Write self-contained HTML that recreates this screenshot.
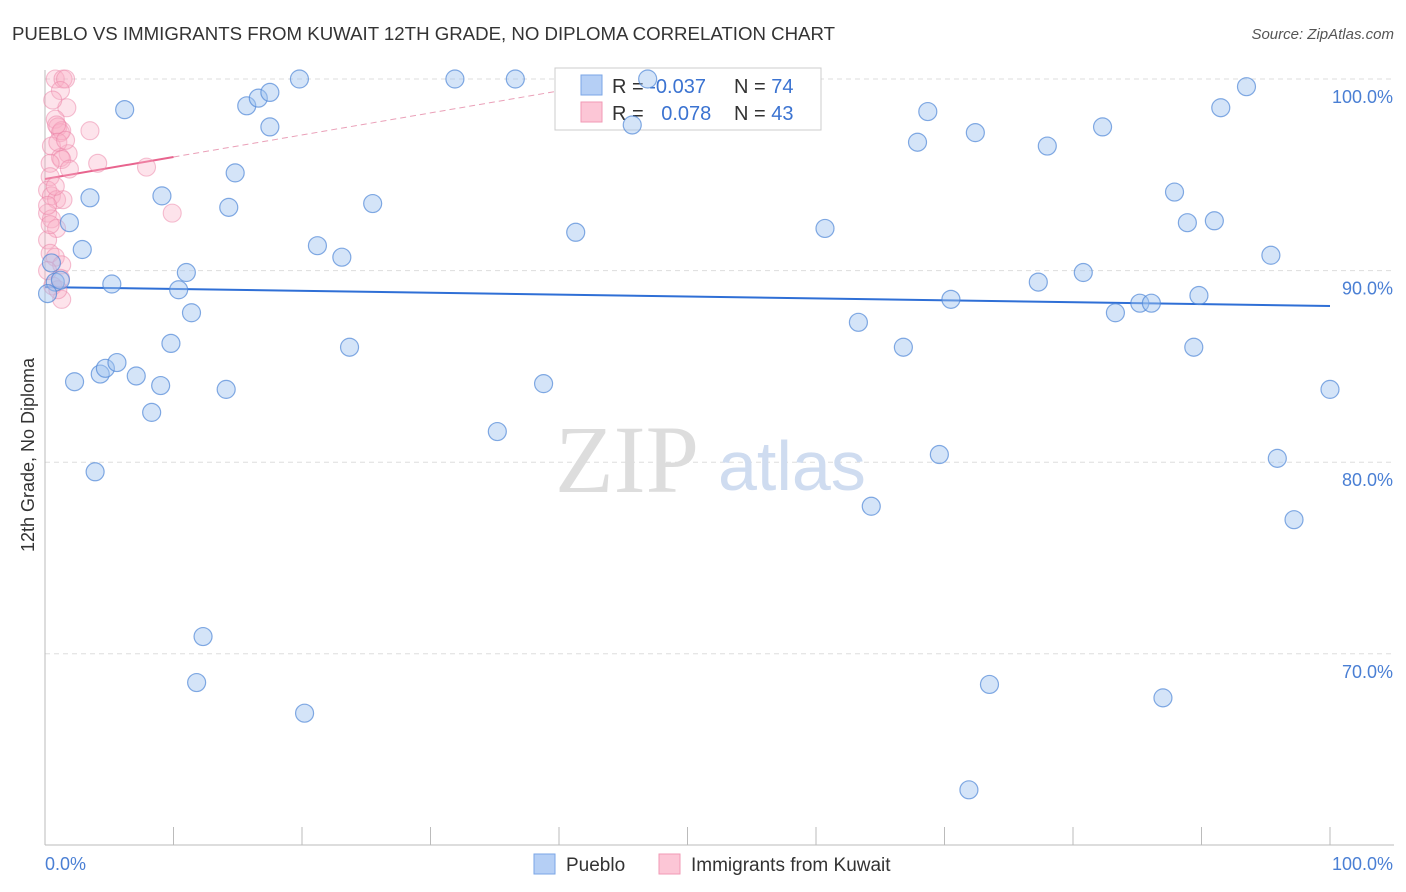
<!DOCTYPE html>
<html><head><meta charset="utf-8"><style>
body{margin:0;background:#fff;font-family:"Liberation Sans",sans-serif;}
#wrap{position:relative;width:1406px;height:892px;overflow:hidden;}
</style></head><body>
<div id="wrap">
<svg id="svg" width="1406" height="892" xmlns="http://www.w3.org/2000/svg">
<text x="12" y="40" font-size="18" fill="#333" textLength="823" lengthAdjust="spacingAndGlyphs">PUEBLO VS IMMIGRANTS FROM KUWAIT 12TH GRADE, NO DIPLOMA CORRELATION CHART</text>
<text x="1394" y="39" font-size="15" fill="#555" text-anchor="end" font-style="italic">Source: ZipAtlas.com</text>
<text x="34" y="455" font-size="18" fill="#333" text-anchor="middle" transform="rotate(-90 34 455)">12th Grade, No Diploma</text>
<g id="grid"></g>
<text x="555" y="492" font-size="96" fill="#ddd" font-family="Liberation Serif">ZIP</text>
<text x="718" y="490" font-size="70" fill="#cfdcf0">atlas</text>
<g id="lines"></g>
<g id="legend">
<rect x="555" y="68" width="266" height="62" fill="#fff" stroke="#ccc"/>
<rect x="581" y="75" width="21" height="20" fill="#b5cff5" stroke="#7aa5e6"/>
<rect x="581" y="102" width="21" height="20" fill="#fcc6d6" stroke="#f29ab5"/>
<text x="612" y="93" font-size="20" fill="#333">R = <tspan fill="#3b73d1">-0.037</tspan></text>
<text x="734" y="93" font-size="20" fill="#333">N = <tspan fill="#3b73d1">74</tspan></text>
<text x="612" y="120" font-size="20" fill="#333">R = <tspan fill="#3b73d1" dx="12">0.078</tspan></text>
<text x="734" y="120" font-size="20" fill="#333">N = <tspan fill="#3b73d1">43</tspan></text>
</g>
<g id="pts"></g>
<g>
<rect x="534" y="854" width="21" height="20" fill="#b5cff5" stroke="#7aa5e6"/>
<text x="566" y="871" font-size="19" fill="#333">Pueblo</text>
<rect x="659" y="854" width="21" height="20" fill="#fcc6d6" stroke="#f29ab5"/>
<text x="691" y="871" font-size="19" fill="#333">Immigrants from Kuwait</text>
</g>
</svg>
</div>
<script>
const yTicks=[100,90,80,70];
const yTickLabels=["100.0%","90.0%","80.0%","70.0%"];
const xTickLabels=["0.0%","100.0%"];
const puebloX=[6.2,15.7,16.6,17.5,19.8,31.9,36.6,46.9,45.7,17.5,14.8,9.1,3.5,14.3,25.5,1.9,2.9,21.2,23.1,11.0,5.2,10.4,0.8,0.2,11.4,9.8,23.7,2.3,4.3,4.7,5.6,7.1,9.0,14.1,8.3,3.9,35.2,38.8,41.3,60.7,68.7,67.9,72.4,78.0,82.3,93.5,91.5,87.9,88.9,91.0,95.4,80.8,77.3,70.5,83.3,85.2,86.1,89.8,63.3,66.8,89.4,100,69.6,95.9,97.2,64.3,12.3,11.8,20.2,73.5,87.0,71.9,0.5,1.2];
const puebloY=[98.4,98.6,99.0,99.3,100,100,100,100,97.6,97.5,95.1,93.9,93.8,93.3,93.5,92.5,91.1,91.3,90.7,89.9,89.3,89.0,89.4,88.8,87.8,86.2,86.0,84.2,84.6,84.9,85.2,84.5,84.0,83.8,82.6,79.5,81.6,84.1,92.0,92.2,98.3,96.7,97.2,96.5,97.5,99.6,98.5,94.1,92.5,92.6,90.8,89.9,89.4,88.5,87.8,88.3,88.3,88.7,87.3,86.0,86.0,83.8,80.4,80.2,77.0,77.7,70.9,68.5,66.9,68.4,67.7,62.9,90.4,89.5];
const kuwaitX=[0.8,1.4,1.6,1.2,1.7,0.8,1.0,1.2,1.3,0.9,3.5,0.5,1.8,1.2,1.3,4.1,1.9,7.9,0.4,0.4,0.2,0.5,0.9,1.4,0.2,0.5,0.9,9.9,0.2,0.4,0.8,1.3,1.2,0.6,1.3,0.4,0.2,0.8,1.0,0.6,1.6,0.2,1.0];
const kuwaitY=[100,100,100,99.4,98.5,97.9,97.5,97.2,97.3,97.6,97.3,96.5,96.1,95.9,95.8,95.6,95.3,95.4,95.6,94.9,94.2,93.9,93.7,93.7,93.0,92.7,92.2,93.0,91.6,90.9,90.7,90.3,89.6,89.2,88.5,92.4,93.4,94.4,96.7,98.9,96.8,90.0,89.0];
const puebloTrend=[89.14,88.15];
const kuwaitTrend=[94.78,95.93];
const NS="http://www.w3.org/2000/svg";
const X0=45,X1=1330,YTOP=79,PER=19.16;
function sx(v){return X0+(X1-X0)*v/100;}
function sy(v){return YTOP+(100-v)*PER;}
function mk(t,a,p){const e=document.createElementNS(NS,t);for(const k in a)e.setAttribute(k,a[k]);p.appendChild(e);return e;}
const grid=document.getElementById('grid');
yTicks.forEach((t,i)=>{
 const l=mk('line',{x1:X0,x2:1394,y1:sy(t),y2:sy(t),stroke:'#ddd','stroke-dasharray':'5,4'},grid);
 
 
 const tx=mk('text',{x:1393,y:sy(t)+24,'font-size':18,fill:'#4a7fd4','text-anchor':'end'},grid);
 tx.textContent=yTickLabels[i];
 
 
});
const ax=mk('line',{x1:X0,x2:X0,y1:70,y2:845,stroke:'#bbb'},grid);


const bx=mk('line',{x1:X0,x2:1394,y1:845,y2:845,stroke:'#bbb'},grid);


for(let i=0;i<=10;i++){
 const t=mk('line',{x1:sx(i*10),x2:sx(i*10),y1:827,y2:845,stroke:'#bbb'},grid);
 
 
}
[0,100].forEach((v,i)=>{
 const t=mk('text',{x:v==0?45:1393,y:870,'font-size':18,fill:'#4a7fd4','text-anchor':v==0?'start':'end'},grid);
 t.textContent=xTickLabels[i];
 
 
});
const pts=document.getElementById('pts');
kuwaitX.forEach((x,i)=>{
 const c=mk('circle',{cx:sx(x),cy:sy(kuwaitY[i]),r:9,fill:'rgba(248,175,198,0.35)',stroke:'rgba(236,130,165,0.5)','stroke-width':1.1},pts);
 
 
});
puebloX.forEach((x,i)=>{
 const c=mk('circle',{cx:sx(x),cy:sy(puebloY[i]),r:9,fill:'rgba(160,195,240,0.45)',stroke:'rgba(80,135,215,0.7)','stroke-width':1.2},pts);
 
 
});
const lines=document.getElementById('lines');
const bl=mk('line',{x1:sx(0),y1:sy(puebloTrend[0]),x2:sx(100),y2:sy(puebloTrend[1]),stroke:'#2f6fd6','stroke-width':2},lines);


const d10=kuwaitTrend[1]-kuwaitTrend[0];
const pl=mk('line',{x1:sx(0),y1:sy(kuwaitTrend[0]),x2:sx(10),y2:sy(kuwaitTrend[1]),stroke:'#e8648e','stroke-width':2},lines);


const pd=mk('line',{x1:sx(10),y1:sy(kuwaitTrend[1]),x2:sx(Math.min(100,(100-kuwaitTrend[0])/d10*10)),y2:sy(100),stroke:'#eaa0b8','stroke-width':1,'stroke-dasharray':'6,4'},lines);


</script>
</body></html>
